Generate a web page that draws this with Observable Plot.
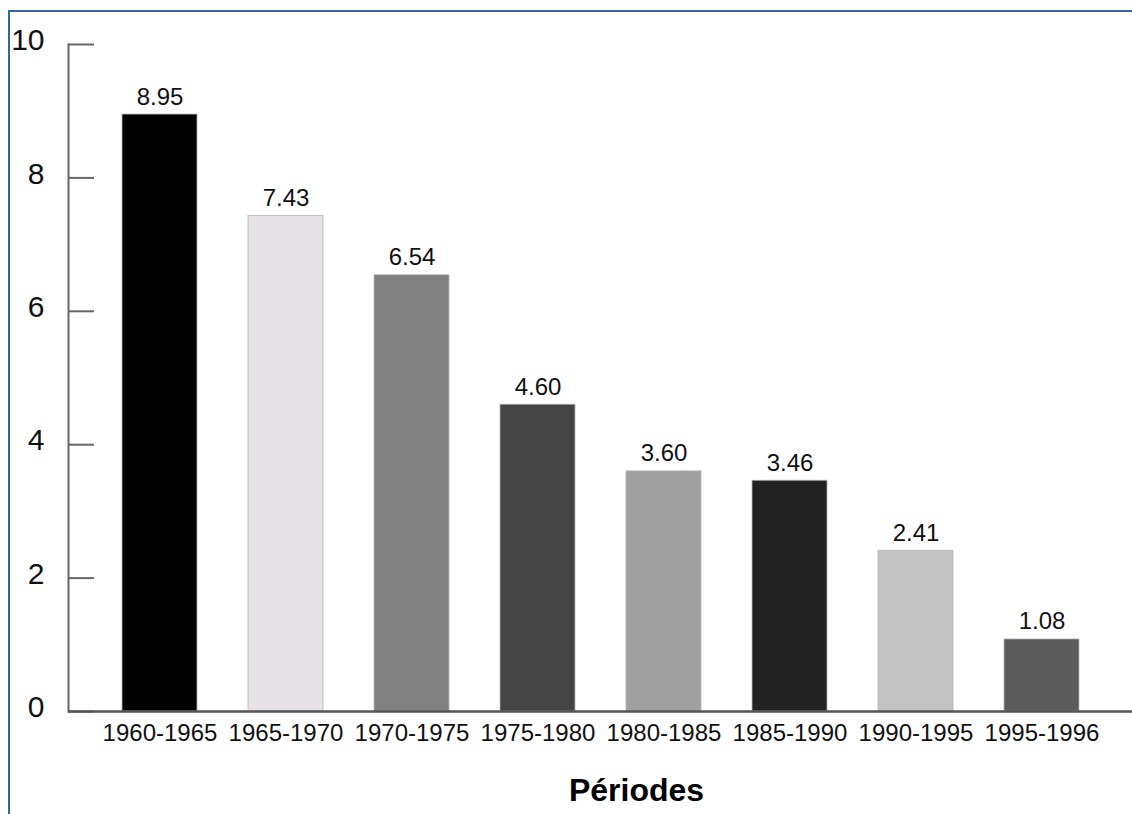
<!DOCTYPE html>
<html>
<head>
<meta charset="utf-8">
<script src="https://cdn.jsdelivr.net/npm/d3@7"></script>
<script src="https://cdn.jsdelivr.net/npm/@observablehq/plot@0.6"></script>
<style>
  html, body { margin: 0; padding: 0; background: #fff; }
  #wrap { position: relative; width: 1132px; height: 814px; overflow: hidden; }
  #border { position: absolute; left: 8px; top: 10px; width: 1200px; height: 900px;
            border-top: 2px solid #3563a3; border-left: 2px solid #3563a3; pointer-events: none; }
  svg { display: block; }
</style>
</head>
<body>
<div id="wrap"><div id="chart"></div><div id="border"></div></div>
<script>
const periods = ["1960-1965", "1965-1970", "1970-1975", "1975-1980", "1980-1985", "1985-1990", "1990-1995", "1995-1996"];
const values = [8.95, 7.43, 6.54, 4.60, 3.60, 3.46, 2.41, 1.08];
const barColors = ["#000000", "#e6e2e6", "#818181", "#444444", "#a0a0a0", "#222222", "#c4c3c4", "#5c5b5c"];
const yTicks = [0, 2, 4, 6, 8, 10];
const xLabel = "Périodes";

const data = periods.map((p, i) => ({period: p, value: values[i], color: barColors[i]}));
const font = "'Liberation Sans', Arial, sans-serif";

const chart = Plot.plot({
  width: 1132,
  height: 814,
  marginTop: 44,
  marginBottom: 103,
  marginLeft: 68,
  marginRight: 0,
  style: {fontFamily: font, background: "white", color: "#111"},
  x: {domain: periods, paddingInner: 0.408, paddingOuter: 0.403, label: null, axis: null},
  y: {domain: [0, 10], label: null, axis: null},
  marks: [
    Plot.barY(data, {x: "period", y: "value", fill: "color", stroke: "#b5b5b5", strokeWidth: 0.8}),
    Plot.frame({anchor: "left", stroke: "#666", strokeWidth: 2}),
    Plot.axisY({ticks: yTicks, tickSize: -26, text: null, stroke: "#666", strokeWidth: 2}),
    Plot.axisY({ticks: yTicks, tickSize: 0, tickPadding: 24, fontSize: 30, dy: -4, fill: "#111",
                style: {letterSpacing: "-1px"}}),
    Plot.ruleY([0], {stroke: "#555", strokeWidth: 2.5}),
    Plot.axisX({tickSize: 0, tickPadding: 12, fontSize: 24, fill: "#111",
                style: {letterSpacing: "-1px"}}),
    Plot.text(data, {x: "period", y: "value", text: d => d3.format(".2f")(d.value),
                     lineAnchor: "bottom", dy: -10, fontSize: 24, fill: "#111",
                     style: {letterSpacing: "-0.5px"}}),
    Plot.text([xLabel], {frameAnchor: "bottom", dx: 36, dy: 79, fontSize: 32, fontWeight: "bold",
                         fill: "#000", lineAnchor: "middle"})
  ]
});
document.getElementById("chart").appendChild(chart);
</script>
</body>
</html>
